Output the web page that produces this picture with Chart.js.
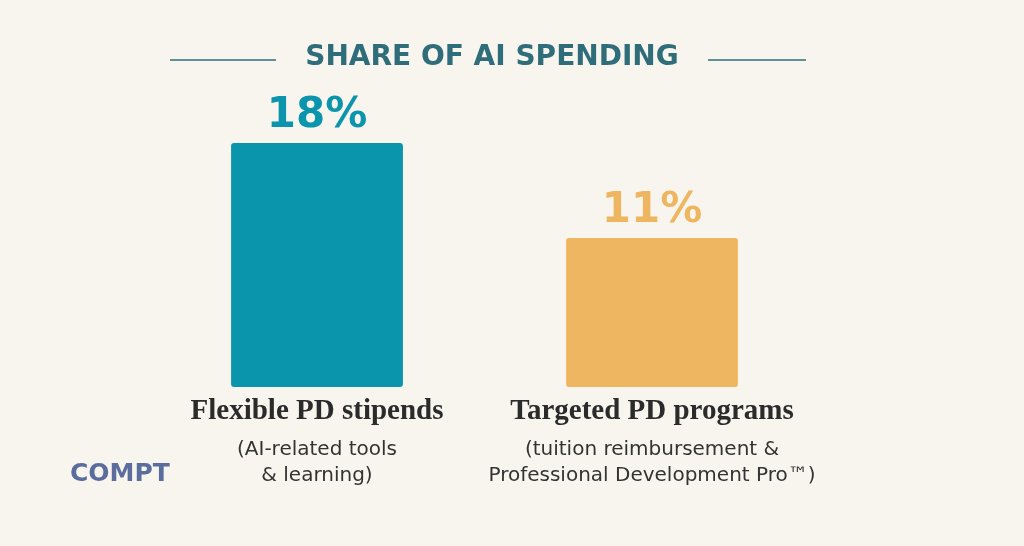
<!DOCTYPE html>
<html><head><meta charset="utf-8">
<script src="https://cdn.jsdelivr.net/npm/chart.js@4"></script>
<style>
html,body{margin:0;padding:0;background:#f8f5ef;}
#wrap{width:1024px;height:546px;position:relative;}
</style></head>
<body><div id="wrap"><canvas id="c" width="1024" height="546"></canvas></div>
<script>
// ── Data ──────────────────────────────────────────────────────────────────────
const categories = ['Flexible PD stipends', 'Targeted PD programs'];
const subLabels  = [['(AI-related tools', '& learning)'], ['(tuition reimbursement &', 'Professional Development Pro™)']];
const shares     = [18, 11];
const colors     = ['#0a95ad', '#efb661'];
const TITLE = 'SHARE OF AI SPENDING';

// ── Text plugin ───────────────────────────────────────────────────────────────
const labelsPlugin = {
  id: 'labels',
  afterDraw(chart) {
    const ctx = chart.ctx;
    const meta = chart.getDatasetMeta(0);
    ctx.save();
    ctx.textAlign = 'center';
    ctx.textBaseline = 'middle';

    // title + side rules
    ctx.fillStyle = '#2f6d7a';
    ctx.font = '600 28px "DejaVu Sans"';
    ctx.fillText(TITLE, 492, 58);
    ctx.strokeStyle = '#2f6d7a';
    ctx.lineWidth = 1.5;
    ctx.beginPath();
    ctx.moveTo(170, 60); ctx.lineTo(276, 60);
    ctx.moveTo(708, 60); ctx.lineTo(806, 60);
    ctx.stroke();

    meta.data.forEach((bar, i) => {
      ctx.fillStyle = colors[i];
      ctx.font = 'bold 42px "DejaVu Sans"';
      ctx.fillText(shares[i] + '%', bar.x, bar.y - 27);

      ctx.fillStyle = '#2b2b2b';
      ctx.font = 'bold 29px "Liberation Serif"';
      ctx.fillText(categories[i], bar.x, 412);

      ctx.fillStyle = '#333';
      ctx.font = '20px "DejaVu Sans"';
      subLabels[i].forEach((s, j) => ctx.fillText(s, bar.x, 450 + j * 26));
    });

    // logo
    ctx.textAlign = 'left';
    ctx.fillStyle = '#5a6d9c';
    ctx.font = 'bold 25px "DejaVu Sans"';
    ctx.fillText('COMPT', 70, 474);
    ctx.restore();
  }
};

// ── Chart ─────────────────────────────────────────────────────────────────────
new Chart(document.getElementById('c'), {
  type: 'bar',
  data: {
    labels: categories,
    datasets: [{
      data: shares,
      backgroundColor: colors,
      borderRadius: 3,
      borderSkipped: false,
      categoryPercentage: 1,
      barPercentage: 0.513
    }]
  },
  options: {
    responsive: false,
    animation: false,
    layout: { padding: { top: 116, bottom: 159, left: 149.5, right: 204.5 } },
    plugins: { legend: { display: false }, tooltip: { enabled: false } },
    scales: {
      x: { display: false },
      y: { display: false, min: 0, max: 20 }
    }
  },
  plugins: [labelsPlugin]
});
</script></body></html>
